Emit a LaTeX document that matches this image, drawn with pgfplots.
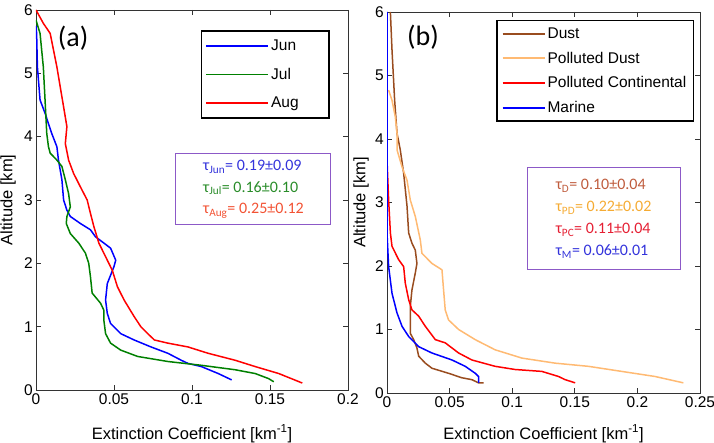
\documentclass[border=0pt]{standalone}
\usepackage{pgfplots}
\pgfplotsset{compat=1.18}
\usepackage{fontspec}
\setmainfont{Liberation Sans}
\newfontfamily\calibri{Carlito}
\definecolor{mblue}{rgb}{0,0,1}
\definecolor{mgreen}{rgb}{0,0.5,0}
\definecolor{mred}{rgb}{1,0,0}
\definecolor{dust}{rgb}{0.6,0.3,0.12}
\definecolor{pdust}{rgb}{1,0.73,0.45}
\definecolor{boxpurple}{rgb}{0.55,0.35,0.78}
\definecolor{tblue}{rgb}{0.2,0.2,0.86}
\definecolor{tgreen}{rgb}{0.16,0.55,0.16}
\definecolor{tred}{rgb}{0.95,0.32,0.2}
\definecolor{tbrown}{rgb}{0.75,0.36,0.24}
\definecolor{torange}{rgb}{0.96,0.67,0.2}
\definecolor{tpc}{rgb}{0.9,0.12,0.2}
\pgfplotsset{
  mystyle/.style={
    scale only axis, anchor=south west,
    ymin=0, ymax=6, ytick={0,1,2,3,4,5,6},
    tick align=inside, xtick pos=both, ytick pos=both,
    major tick length=5pt,
    axis line style={line width=0.8pt, black!80},
    every tick/.style={black!80, line width=0.8pt},
    tick label style={font=\fontsize{15.5}{18}\selectfont, inner sep=3pt},
    /pgf/number format/assume math mode=true,
    /pgf/number format/fixed, /pgf/number format/precision=2,
    xlabel={Extinction Coefficient [km\textsuperscript{-1}]},
    ylabel={Altitude [km]},
    label style={font=\fontsize{16.5}{18}\selectfont},
    legend cell align=left,
    legend style={draw=black, line width=1.5pt, font=\fontsize{15.5}{17}\selectfont,
      inner xsep=7pt},
    every axis plot/.append style={line width=1.5pt},
  }
}
\begin{document}
\begin{tikzpicture}
\useasboundingbox (0,0) rectangle (714pt,442pt);
\begin{axis}[mystyle, at={(36pt,52pt)}, width=312pt, height=380pt,
  xmin=0, xmax=0.2, xtick={0,0.05,0.1,0.15,0.2},
  xlabel style={at={(rel axis cs:0.5,0)}, anchor=base, yshift=-49pt},
  ylabel style={at={(rel axis cs:0,0.5)}, anchor=center, yshift=28pt},
  legend style={at={(0.942,0.947)}, anchor=north east, row sep=12pt, inner ysep=7pt, inner xsep=4pt},
  legend image code/.code={\draw[#1, line width=1.8pt] (0pt,0pt) -- (62pt,0pt);}]
\addplot[mblue] coordinates {(0,5.75)(0.0004,5.63)(0.0009,5.1)(0.0026,4.58)(0.0058,4.37)(0.0101,4.05)(0.0134,3.84)(0.0144,3.63)(0.0166,3.32)(0.0177,3.0)(0.0198,2.84)(0.0220,2.74)(0.0284,2.63)(0.0349,2.53)(0.0381,2.42)(0.0435,2.32)(0.0478,2.24)(0.0511,2.05)(0.0500,1.95)(0.0457,1.68)(0.0446,1.42)(0.0457,1.21)(0.0478,1.05)(0.0543,0.89)(0.0629,0.79)(0.0737,0.68)(0.0845,0.58)(0.0931,0.47)(0.0974,0.42)(0.1060,0.37)(0.1168,0.26)(0.1254,0.16)};
\addplot[mgreen] coordinates {(0,5.84)(0.0026,5.63)(0.0047,5.1)(0.0058,4.58)(0.0069,4.05)(0.0080,3.84)(0.0091,3.74)(0.0134,3.63)(0.0166,3.53)(0.0188,3.32)(0.0209,3.1)(0.0220,2.89)(0.0198,2.74)(0.0194,2.63)(0.0220,2.47)(0.0274,2.32)(0.0317,2.16)(0.0338,2.0)(0.0349,1.79)(0.0360,1.53)(0.0414,1.37)(0.0435,1.26)(0.0435,1.1)(0.0446,0.89)(0.0478,0.74)(0.0543,0.63)(0.0651,0.53)(0.0845,0.45)(0.0953,0.42)(0.1060,0.39)(0.1276,0.32)(0.1405,0.26)(0.1491,0.18)(0.1524,0.13)};
\addplot[mred] coordinates {(0,6.0)(0.0047,5.79)(0.0091,5.63)(0.0112,5.37)(0.0134,5.1)(0.0155,4.79)(0.0177,4.47)(0.0198,4.16)(0.0188,3.89)(0.0209,3.63)(0.0241,3.42)(0.0284,3.21)(0.0328,3.0)(0.0349,2.79)(0.0371,2.58)(0.0403,2.32)(0.0457,2.05)(0.0489,1.89)(0.0522,1.63)(0.0565,1.42)(0.0629,1.16)(0.0672,1.0)(0.0716,0.89)(0.0759,0.79)(0.0845,0.74)(0.0974,0.68)(0.1103,0.58)(0.1276,0.47)(0.1405,0.37)(0.1556,0.26)(0.1707,0.11)};
\legend{\makebox[52pt][l]{Jun},Jul,Aug}
\node[draw=boxpurple, line width=1pt, minimum width=155pt, minimum height=71pt, align=left,
  font=\calibri\fontsize{16}{21.5}\selectfont, inner xsep=10pt] at (rel axis cs:0.697,0.528)
  {\textcolor{tblue}{τ\textsubscript{Jun}= 0.19±0.09}\\
   \textcolor{tgreen}{τ\textsubscript{Jul}= 0.16±0.10}\\
   \textcolor{tred}{τ\textsubscript{Aug}= 0.25±0.12}};
\node[font=\calibri\fontsize{28}{30}\selectfont] at (rel axis cs:0.119,0.926) {(a)};
\end{axis}
\begin{axis}[mystyle, at={(387pt,49pt)}, width=313pt, height=381pt,
  xmin=0, xmax=0.25, xtick={0,0.05,0.1,0.15,0.2,0.25},
  xlabel style={at={(rel axis cs:0.5,0)}, anchor=base, yshift=-46pt},
  ylabel style={at={(rel axis cs:0,0.5)}, anchor=center, yshift=26pt},
  legend style={at={(0.981,0.979)}, anchor=north east, row sep=8pt, inner ysep=5pt, inner xsep=5pt},
  legend image code/.code={\draw[#1, line width=1.8pt] (0pt,0pt) -- (42pt,0pt);}]
\addplot[dust] coordinates {(0.0027,6.0)(0.0040,5.4)(0.0061,4.61)(0.0080,4.09)(0.0106,3.83)(0.0133,3.46)(0.0160,2.94)(0.0173,2.52)(0.0199,2.36)(0.0226,2.25)(0.0239,2.04)(0.0226,1.89)(0.0199,1.62)(0.0186,1.36)(0.0186,0.94)(0.0213,0.84)(0.0239,0.71)(0.0253,0.58)(0.0306,0.47)(0.0359,0.39)(0.0492,0.31)(0.0598,0.24)(0.0678,0.21)(0.0731,0.16)(0.0771,0.16)};
\addplot[pdust] coordinates {(0.0013,4.77)(0.0040,4.61)(0.0066,4.35)(0.0080,4.09)(0.0080,3.83)(0.0120,3.56)(0.0160,3.35)(0.0186,3.04)(0.0226,2.78)(0.0266,2.41)(0.0279,2.2)(0.0359,2.04)(0.0439,1.94)(0.0452,1.62)(0.0465,1.31)(0.0492,1.15)(0.0572,1.0)(0.0705,0.84)(0.0864,0.68)(0.1077,0.55)(0.1343,0.47)(0.1609,0.42)(0.1875,0.34)(0.2141,0.26)(0.2367,0.16)};
\addplot[mred] coordinates {(0,3.67)(0.0013,3.04)(0.0027,2.52)(0.0040,2.31)(0.0093,2.1)(0.0133,1.99)(0.0146,1.73)(0.0173,1.47)(0.0199,1.31)(0.0253,1.21)(0.0306,1.05)(0.0386,0.84)(0.0465,0.79)(0.0572,0.63)(0.0678,0.52)(0.0864,0.42)(0.1024,0.37)(0.1237,0.34)(0.1370,0.26)(0.1423,0.21)(0.1503,0.16)};
\addplot[mblue] coordinates {(0,6.0)(0,2.52)(0.0013,1.99)(0.0040,1.57)(0.0080,1.26)(0.0120,1.05)(0.0173,0.89)(0.0253,0.73)(0.0359,0.63)(0.0519,0.52)(0.0625,0.42)(0.0705,0.31)(0.0731,0.26)(0.0731,0.16)};
\legend{Dust,Polluted Dust,Polluted Continental,Marine}
\node[draw=boxpurple, line width=1pt, minimum width=153pt, minimum height=102pt, align=left,
  font=\calibri\fontsize{16}{22}\selectfont, inner xsep=10pt] at (rel axis cs:0.692,0.457)
  {\textcolor{tbrown}{τ\textsubscript{D}= 0.10±0.04}\\
   \textcolor{torange}{τ\textsubscript{PD}= 0.22±0.02}\\
   \textcolor{tpc}{τ\textsubscript{PC}= 0.11±0.04}\\
   \textcolor{tblue}{τ\textsubscript{M}= 0.06±0.01}};
\node[font=\calibri\fontsize{28}{30}\selectfont] at (rel axis cs:0.115,0.934) {(b)};
\end{axis}
\end{tikzpicture}
\end{document}
